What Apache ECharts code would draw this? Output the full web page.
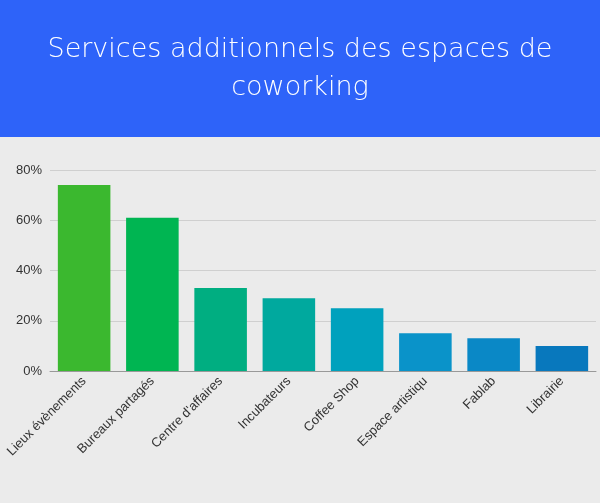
<!DOCTYPE html>
<html><head><meta charset="utf-8">
<script src="https://cdn.jsdelivr.net/npm/echarts@6/dist/echarts.min.js"></script>
<style>html,body{margin:0;padding:0;}#c{width:600px;height:503px;background:#ebebeb;}</style>
</head><body><div id="c"></div>
<script>
const categories=["Lieux évènements","Bureaux partagés","Centre d'affaires","Incubateurs","Coffee Shop","Espace artistiqu","Fablab","Librairie"];
const values=[74,61,33,29,25,15,13,10];
const colors=["#3bb82f","#00b552","#00ae81","#00a99e","#00a1bd","#0a93c9","#0a88c6","#0878bd"];
const yTicks=[0,20,40,60,80];
const chart=echarts.init(document.getElementById('c'));
chart.setOption({
  backgroundColor:'#ebebeb',
  graphic:[
    {type:'rect',left:0,top:0,shape:{width:600,height:137},style:{fill:'#2e63f9'},z:-1},
    {type:'text',left:'center',top:31,style:{text:'Services additionnels des espaces de\ncoworking',fill:'#fff',font:'200 27px "DejaVu Sans ExtraLight", "DejaVu Sans"',lineHeight:38,textAlign:'center'}}
  ],
  grid:{left:50,right:4,top:170,bottom:132},
  xAxis:{type:'category',data:categories,axisTick:{show:false},axisLine:{lineStyle:{color:'#999'}},
    axisLabel:{rotate:45,interval:0,color:'#333',fontSize:13,fontFamily:'Liberation Sans',margin:8}},
  yAxis:{type:'value',min:0,max:80,interval:20,axisLabel:{formatter:v=>v+'%',color:'#333',fontSize:13,fontFamily:'Liberation Sans'},
    splitLine:{lineStyle:{color:'#cfcfcf'}},axisLine:{show:false},axisTick:{show:false}},
  series:[{type:'bar',barWidth:'77%',data:values.map((v,i)=>({value:v,itemStyle:{color:colors[i]}}))}]
});
</script></body></html>
